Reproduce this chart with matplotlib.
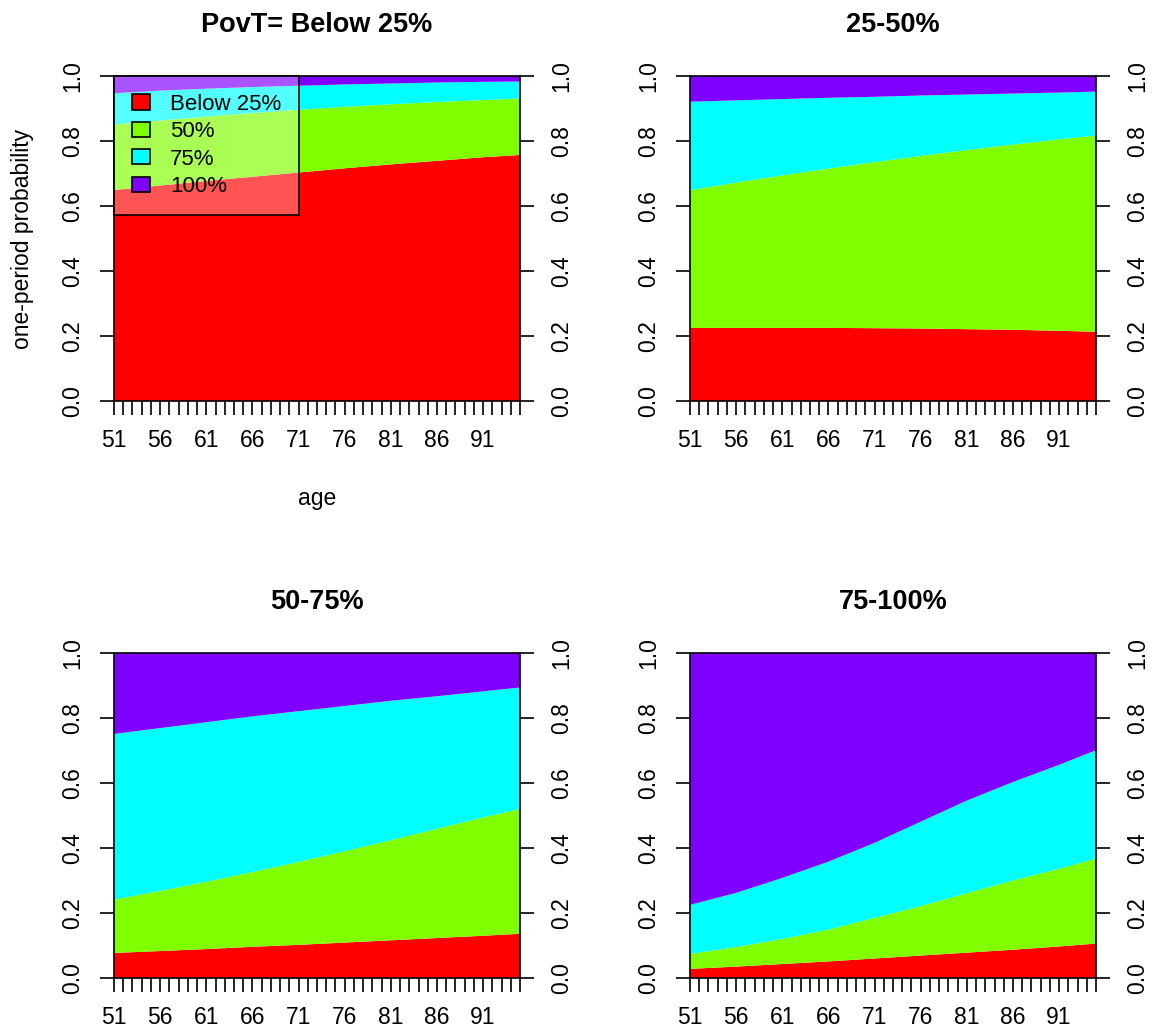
import matplotlib
matplotlib.use("Agg")
import matplotlib.pyplot as plt
from matplotlib.patches import Patch

plt.rcParams["font.family"] = ["Liberation Sans", "DejaVu Sans"]

# Ages at which the one-period transition probabilities are tabulated
ages = [51, 56, 61, 66, 71, 76, 81, 86, 91, 95]

categories = ["Below 25%", "50%", "75%", "100%"]
colors = ["#FF0000", "#80FF00", "#00FFFF", "#8000FF"]
titles = ["PovT= Below 25%", "25-50%", "50-75%", "75-100%"]

# Starting state: below 25%
lt25_below25 = [0.649, 0.663, 0.677, 0.690, 0.703, 0.716, 0.728, 0.739, 0.750, 0.757]
lt25_50 = [0.202, 0.200, 0.198, 0.196, 0.193, 0.189, 0.185, 0.181, 0.176, 0.174]
lt25_75 = [0.096, 0.092, 0.086, 0.080, 0.074, 0.069, 0.064, 0.060, 0.056, 0.052]
lt25_100 = [0.053, 0.045, 0.039, 0.034, 0.030, 0.026, 0.023, 0.020, 0.018, 0.017]

# Starting state: 25-50%
q50_below25 = [0.225, 0.225, 0.225, 0.225, 0.224, 0.223, 0.221, 0.219, 0.216, 0.213]
q50_50 = [0.423, 0.447, 0.469, 0.490, 0.511, 0.531, 0.551, 0.570, 0.589, 0.604]
q50_75 = [0.273, 0.253, 0.235, 0.218, 0.201, 0.186, 0.171, 0.157, 0.144, 0.135]
q50_100 = [0.079, 0.075, 0.071, 0.067, 0.064, 0.060, 0.057, 0.054, 0.051, 0.048]

# Starting state: 50-75%
q75_below25 = [0.077, 0.083, 0.089, 0.096, 0.102, 0.109, 0.116, 0.123, 0.130, 0.136]
q75_50 = [0.164, 0.185, 0.207, 0.230, 0.255, 0.281, 0.308, 0.336, 0.364, 0.384]
q75_75 = [0.510, 0.501, 0.491, 0.479, 0.464, 0.447, 0.429, 0.408, 0.388, 0.374]
q75_100 = [0.249, 0.231, 0.213, 0.195, 0.179, 0.163, 0.147, 0.133, 0.118, 0.106]

# Starting state: 75-100%
q100_below25 = [0.028, 0.035, 0.043, 0.051, 0.060, 0.069, 0.078, 0.087, 0.097, 0.106]
q100_50 = [0.046, 0.060, 0.077, 0.098, 0.125, 0.152, 0.183, 0.213, 0.239, 0.261]
q100_75 = [0.151, 0.167, 0.188, 0.209, 0.231, 0.260, 0.285, 0.303, 0.320, 0.334]
q100_100 = [0.775, 0.738, 0.692, 0.642, 0.584, 0.519, 0.454, 0.397, 0.344, 0.299]

panels = [
    [lt25_below25, lt25_50, lt25_75, lt25_100],
    [q50_below25, q50_50, q50_75, q50_100],
    [q75_below25, q75_50, q75_75, q75_100],
    [q100_below25, q100_50, q100_75, q100_100],
]

W, H = 1152, 1031
fig = plt.figure(figsize=(W / 100, H / 100), dpi=100)

# plot regions in pixels: (left, top); all share the same size
boxes = [(114, 76), (690, 76), (114, 653), (690, 653)]
pw, ph = 406, 325

text_size = 16.5
year_ticks = list(range(51, 96))
year_labels = [str(a) if (a - 51) % 5 == 0 and a <= 91 else "" for a in year_ticks]
y_ticks = [0.0, 0.2, 0.4, 0.6, 0.8, 1.0]

for i, (series, title) in enumerate(zip(panels, titles)):
    left, top = boxes[i]
    ax = fig.add_axes([left / W, 1 - (top + ph) / H, pw / W, ph / H])
    ax.stackplot(ages, *series, colors=colors, linewidth=0)
    ax.set_xlim(51, 95)
    ax.set_ylim(0, 1)

    ax.set_xticks(year_ticks)
    ax.set_xticklabels(year_labels)
    ax.set_yticks(y_ticks)
    ax.set_yticklabels([f"{v:.1f}" for v in y_ticks])
    ax.tick_params(axis="both", direction="out", length=10, width=1.2,
                   labelsize=text_size, color="black")
    ax.tick_params(axis="x", pad=10.5)
    ax.tick_params(axis="y", right=True, labelright=True, pad=11.5,
                   labelrotation=90)
    for t in ax.yaxis.get_major_ticks():
        t.label1.set_va("center")
        t.label2.set_va("center")
    for s in ax.spines.values():
        s.set_linewidth(1.2)
        s.set_zorder(5)

    ax.set_title(title, fontsize=19.5, fontweight="bold", pad=32)

    if i == 0:
        ax.set_xlabel("age", fontsize=text_size, labelpad=25)
        ax.set_ylabel("one-period probability", fontsize=text_size, labelpad=19.5)
        handles = [Patch(facecolor=c, edgecolor="black", linewidth=1.2)
                   for c in colors]
        leg = ax.legend(handles, categories, loc="upper left",
                        bbox_to_anchor=(0, 1), borderaxespad=0,
                        fontsize=16, fancybox=False, handlelength=0.82,
                        handleheight=0.67, handletextpad=0.9,
                        labelspacing=0.29, borderpad=0.8)
        frame = leg.get_frame()
        frame.set_alpha(None)
        frame.set_facecolor((1, 1, 1, 1 / 3))
        frame.set_edgecolor("black")
        frame.set_linewidth(1.2)
        leg.set_zorder(6)

fig.savefig("out.png", dpi=100)
